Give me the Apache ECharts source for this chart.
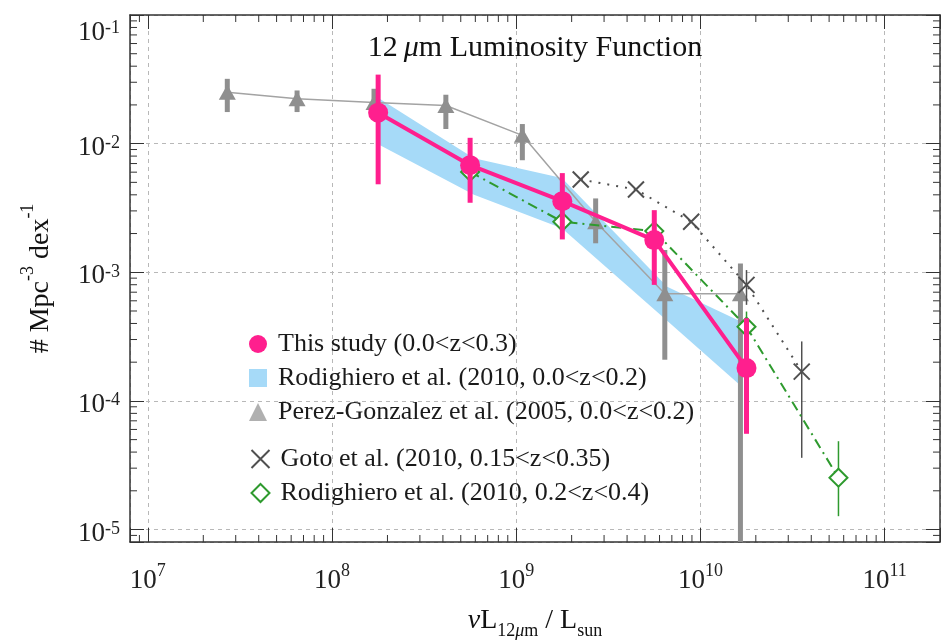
<!DOCTYPE html>
<html><head><meta charset="utf-8">
<script src="https://cdn.jsdelivr.net/npm/echarts@6/dist/echarts.min.js"></script>
<style>html,body{margin:0;padding:0;background:#fff}#c{width:949px;height:644px}</style>
</head><body><div id="c"></div>
<script>
const F = 'Liberation Serif';
// ---- data ----
const pinkX  = [1.78e8, 5.62e8, 1.78e9, 5.62e9, 1.78e10];
const pinkY  = [0.0174, 0.0068, 0.00357, 0.00178, 1.80e-4];
const pinkLo = [0.00483, 0.00347, 0.00180, 7.98e-4, 5.55e-5];
const pinkHi = [0.0344, 0.0111, 0.0059, 0.00304, 4.39e-4];

const bandX  = [1.76e8, 5.9e8, 1.77e9, 6.6e9, 1.68e10];
const bandHi = [0.0229, 0.0077, 0.0054, 7.7e-4, 4.1e-4];
const bandLo = [0.0100, 0.0040, 0.0022, 4.2e-4, 1.29e-4];

const perezX  = [2.70e7, 6.46e7, 1.69e8, 4.15e8, 1.08e9, 2.70e9, 6.41e9, 1.65e10];
const perezY  = [0.0251, 0.0223, 0.0209, 0.0198, 0.0116, 0.00247, 6.8e-4, 6.8e-4];
const perezLo = [0.0176, 0.0176, 0.0160, 0.0130, 0.00743, 0.00168, 2.09e-4, 1e-6];
const perezHi = [0.0319, 0.0259, 0.0267, 0.0240, 0.0142, 0.00375, 0.00149, 0.00117];

const gotoX = [2.24e9, 4.47e9, 8.91e9, 1.78e10, 3.55e10];
const gotoY = [0.00526, 0.00440, 0.00247, 7.98e-4, 1.69e-4];
const gotoErrX  = [1.78e10, 3.55e10];
const gotoErrLo = [5.58e-4, 3.61e-5];
const gotoErrHi = [1.04e-3, 2.90e-4];

const greenX  = [5.62e8, 1.78e9, 5.62e9, 1.78e10, 5.62e10];
const greenY  = [0.00603, 0.00247, 0.00209, 3.77e-4, 2.53e-5];
const greenLo = [0.00434, 0.0019, 0.0017, 2.9e-4, 1.27e-5];
const greenHi = [0.0094, 0.0031, 0.0026, 4.95e-4, 4.86e-5];

const xTickExponents = [7, 8, 9, 10, 11];
const yTickExponents = [-5, -4, -3, -2, -1];
const xDecades = [1e6, 1e7, 1e8, 1e9, 1e10, 1e11];
const yDecades = [1e-6, 1e-5, 1e-4, 1e-3, 1e-2];
const minorMult = [2, 3, 4, 5, 6, 7, 8, 9];

const N_PINK = 'This study (0.0<z<0.3)';
const N_BAND = 'Rodighiero et al. (2010, 0.0<z<0.2)';
const N_PEREZ = 'Perez-Gonzalez et al. (2005, 0.0<z<0.2)';
const N_GOTO = 'Goto et al. (2010, 0.15<z<0.35)';
const N_GREEN = 'Rodighiero et al. (2010, 0.2<z<0.4)';

const PINK = '#ff1f8e', BLUE = '#a6daf8', GRAY = '#8f8f8f', GOTO = '#505050', GREEN = '#2e9a2e';
const XMIN = 8e6, XMAX = 2e11, YMIN = 8e-6, YMAX = 0.1;

// ---- helpers ----
const pairs = (xs, ys) => xs.map((x, i) => [x, ys[i]]);
const triples = (xs, lo, hi) => xs.map((x, i) => [x, lo[i], hi[i]]);
function expOf(v) { const e = Math.log10(v); const r = Math.round(e); return Math.abs(e - r) < 1e-6 ? r : null; }

function errRender(color, width) {
  return function (params, api) {
    const p1 = api.coord([api.value(0), api.value(1)]);
    const p2 = api.coord([api.value(0), api.value(2)]);
    return { type: 'line', shape: { x1: p1[0], y1: p1[1], x2: p2[0], y2: p2[1] },
      style: { stroke: color, lineWidth: width } };
  };
}
function errSeries(name, xs, lo, hi, color, width, z) {
  return { type: 'custom', name: name, z: z, clip: true, renderItem: errRender(color, width),
    encode: { x: 0, y: [1, 2] }, data: triples(xs, lo, hi), silent: true };
}

const xMinor = []; xDecades.forEach(d => minorMult.forEach(m => { const v = d * m; if (v > XMIN && v < XMAX) xMinor.push([v, 1e-3]); }));
const yMinor = []; yDecades.forEach(d => minorMult.forEach(m => { const v = d * m; if (v > YMIN && v < YMAX) yMinor.push([1e9, v]); }));
const ML = 7;

const axisLineStyle = { show: true, onZero: false, lineStyle: { color: '#333', width: 1.5 } };
const majorTick = { show: true, inside: true, length: 14, lineStyle: { color: '#333', width: 1 } };
const tickRichX = {
  b: { fontFamily: F, fontSize: 27, color: '#222', verticalAlign: 'bottom' },
  e: { fontFamily: F, fontSize: 18, color: '#222', verticalAlign: 'top', padding: [0, 0, 14, 0] }
};
const tickRichY = {
  b: { fontFamily: F, fontSize: 27, color: '#222', verticalAlign: 'bottom' },
  e: { fontFamily: F, fontSize: 18, color: '#222', verticalAlign: 'top', padding: [0, 0, 6, 0] },
  g: { fontFamily: F, fontSize: 10, height: 28 }
};
const legendText = { fontFamily: F, fontSize: 26, color: '#1a1a1a', padding: [0, 0, 0, 6] };

const option = {
  animation: false,
  backgroundColor: '#fff',
  grid: { left: 130, right: 9, top: 15, bottom: 102, containLabel: false, outerBoundsMode: 'none' },
  graphic: [{
    type: 'text', x: 535, y: 48, z: 100,
    style: {
      text: '{n|12\u2009}{i|\u03bc}{n|m Luminosity Function}',
      textAlign: 'center', textVerticalAlign: 'middle',
      rich: {
        n: { fontFamily: F, fontSize: 30, fill: '#111', color: '#111' },
        i: { fontFamily: F, fontSize: 30, fontStyle: 'italic', fill: '#111', color: '#111' }
      }
    }
  }],
  legend: [
    { orient: 'vertical', left: 244, top: 326, itemWidth: 18, itemHeight: 18, itemGap: 8, selectedMode: false,
      textStyle: legendText,
      data: [
        { name: N_PINK, icon: 'circle', itemStyle: { color: PINK, borderWidth: 0 } },
        { name: N_BAND, icon: 'rect', itemStyle: { color: BLUE, borderWidth: 0 } },
        { name: N_PEREZ, icon: 'triangle', itemStyle: { color: '#b0b0b0', borderWidth: 0 } }
      ] },
    { orient: 'vertical', left: 244, top: 441, itemWidth: 18, itemHeight: 18, itemGap: 8, selectedMode: false,
      textStyle: legendText,
      data: [
        { name: N_GOTO, icon: 'path://M0,0L10,10M10,0L0,10', itemStyle: { color: 'none', borderColor: GOTO, borderWidth: 2 } },
        { name: N_GREEN, icon: 'diamond', itemStyle: { color: '#fff', borderColor: GREEN, borderWidth: 2 } }
      ] }
  ],
  xAxis: [
    { type: 'log', logBase: 10, min: XMIN, max: XMAX, position: 'bottom',
      axisLine: axisLineStyle, axisTick: majorTick,
      axisLabel: { margin: 20, formatter: v => { const e = expOf(v); return (e !== null && xTickExponents.includes(e)) ? '{b|10}{e|' + e + '}' : ''; }, rich: tickRichX },
      splitLine: { show: true, lineStyle: { color: '#b8b8b8', type: [4, 4], width: 1 } },
      name: '{i|\u03bd}{n|L}{s|12}{si|\u03bc}{s|m}{n| / L}{s|sun}', nameLocation: 'middle', nameGap: 65,
      nameTextStyle: { fontFamily: F, fontSize: 28, color: '#111', rich: {
        n: { fontFamily: F, fontSize: 28, color: '#111', verticalAlign: 'top' },
        i: { fontFamily: F, fontSize: 28, fontStyle: 'italic', color: '#111', verticalAlign: 'top' },
        s: { fontFamily: F, fontSize: 18, color: '#111', verticalAlign: 'top', padding: [15, 0, 0, 0] },
        si: { fontFamily: F, fontSize: 18, fontStyle: 'italic', color: '#111', verticalAlign: 'top', padding: [15, 0, 0, 0] }
      } } },
    { type: 'log', logBase: 10, min: XMIN, max: XMAX, position: 'top',
      axisLine: axisLineStyle, axisTick: majorTick, axisLabel: { show: false }, splitLine: { show: false } }
  ],
  yAxis: [
    { type: 'log', logBase: 10, min: YMIN, max: YMAX, position: 'left',
      axisLine: axisLineStyle, axisTick: majorTick,
      axisLabel: { margin: 10, padding: [8, 0, 0, 0], formatter: v => { const e = expOf(v); if (e === null || !yTickExponents.includes(e)) return ''; return (e === -1 ? '{g| }\n' : '') + '{b|10}{e|' + e + '}'; }, rich: tickRichY },
      splitLine: { show: true, lineStyle: { color: '#b8b8b8', type: [4, 4], width: 1 } },
      name: '{n|# Mpc}{s|-3}{n| dex}{s|-1}', nameLocation: 'middle', nameGap: 75, nameRotate: 90,
      nameTextStyle: { fontFamily: F, fontSize: 28, color: '#111', rich: {
        n: { fontFamily: F, fontSize: 28, color: '#111', verticalAlign: 'bottom' },
        s: { fontFamily: F, fontSize: 18, color: '#111', verticalAlign: 'top', padding: [0, 0, 18, 0] }
      } } },
    { type: 'log', logBase: 10, min: YMIN, max: YMAX, position: 'right',
      axisLine: axisLineStyle, axisTick: majorTick, axisLabel: { show: false }, splitLine: { show: false } }
  ],
  series: [
    { type: 'custom', name: N_BAND, z: 1, silent: true, itemStyle: { color: BLUE },
      data: [[bandX[0], bandHi[0]]],
      renderItem: function (params, api) {
        const pts = [];
        for (let i = 0; i < bandX.length; i++) pts.push(api.coord([bandX[i], bandHi[i]]));
        for (let i = bandX.length - 1; i >= 0; i--) pts.push(api.coord([bandX[i], bandLo[i]]));
        return { type: 'polygon', shape: { points: pts }, style: { fill: BLUE } };
      } },
    errSeries('perezErr', perezX, perezLo, perezHi, GRAY, 5, 2),
    { type: 'line', name: N_PEREZ, z: 3, data: pairs(perezX, perezY), symbol: 'triangle', symbolSize: [17, 15],
      itemStyle: { color: GRAY }, lineStyle: { color: '#a3a3a3', width: 1.5 } },
    errSeries('gotoErr', gotoErrX, gotoErrLo, gotoErrHi, GOTO, 1.5, 4),
    { type: 'line', name: N_GOTO, z: 5, data: pairs(gotoX, gotoY), symbol: 'path://M0,0L10,10M10,0L0,10', symbolSize: 16,
      itemStyle: { color: GOTO, borderColor: GOTO, borderWidth: 2 }, lineStyle: { color: GOTO, width: 2, type: [2, 7] } },
    errSeries('greenErr', greenX, greenLo, greenHi, GREEN, 1.5, 6),
    { type: 'line', name: N_GREEN, z: 7, data: pairs(greenX, greenY), symbol: 'emptyDiamond', symbolSize: 18,
      itemStyle: { color: GREEN, borderColor: GREEN, borderWidth: 2 }, lineStyle: { color: GREEN, width: 2, type: [10, 5, 2, 5] } },
    errSeries('pinkErr', pinkX, pinkLo, pinkHi, PINK, 5, 8),
    { type: 'line', name: N_PINK, z: 9, data: pairs(pinkX, pinkY), symbol: 'circle', symbolSize: 20,
      itemStyle: { color: PINK }, lineStyle: { color: PINK, width: 4 } },
    { type: 'custom', name: 'xMinor', z: 10, silent: true, data: xMinor,
      renderItem: function (params, api) {
        const cs = params.coordSys; const px = api.coord([api.value(0), api.value(1)])[0];
        const st = { stroke: '#333', lineWidth: 1 };
        return { type: 'group', children: [
          { type: 'line', shape: { x1: px, y1: cs.y + cs.height, x2: px, y2: cs.y + cs.height - ML }, style: st },
          { type: 'line', shape: { x1: px, y1: cs.y, x2: px, y2: cs.y + ML }, style: st } ] };
      } },
    { type: 'custom', name: 'yMinor', z: 10, silent: true, data: yMinor,
      renderItem: function (params, api) {
        const cs = params.coordSys; const py = api.coord([api.value(0), api.value(1)])[1];
        const st = { stroke: '#333', lineWidth: 1 };
        return { type: 'group', children: [
          { type: 'line', shape: { x1: cs.x, y1: py, x2: cs.x + ML, y2: py }, style: st },
          { type: 'line', shape: { x1: cs.x + cs.width, y1: py, x2: cs.x + cs.width - ML, y2: py }, style: st } ] };
      } }
  ]
};
const chart = echarts.init(document.getElementById('c'), null, { renderer: 'canvas' });
chart.setOption(option);
</script></body></html>
